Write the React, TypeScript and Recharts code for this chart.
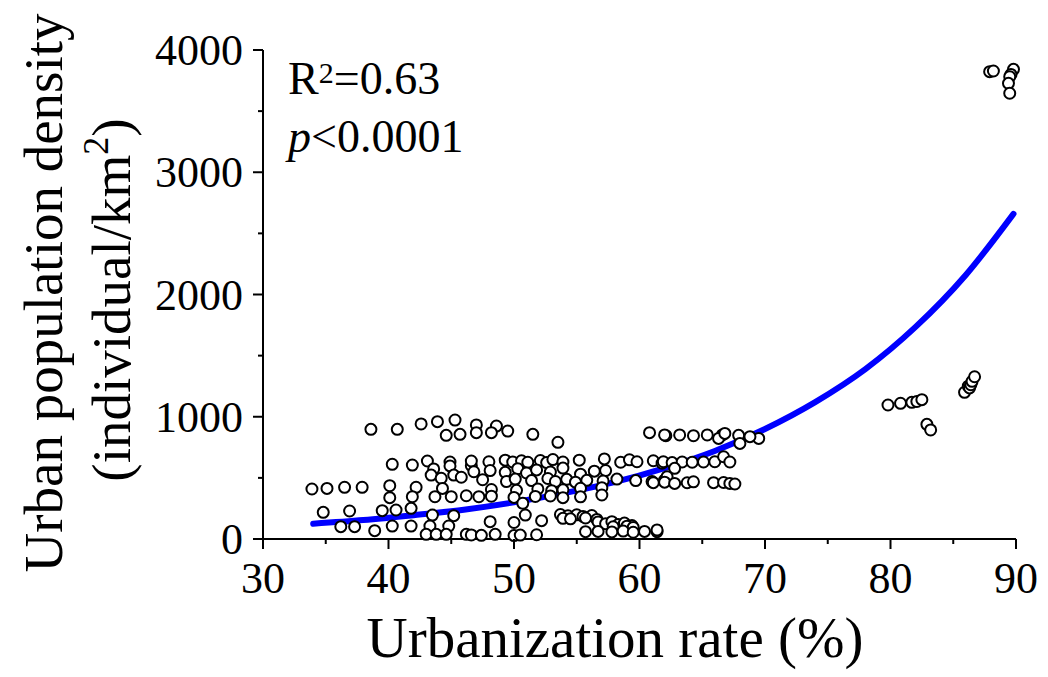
import { ComposedChart, Scatter, Line, XAxis, YAxis } from 'recharts';

// urbanization rate (%) of each sample
const urbanRate = [
  33.9, 35.1, 36.5, 37.9, 34.8, 36.9, 36.2, 37.3, 38.6, 40.7, 42.6, 43.9, 45.3, 44.6, 45.7,
  40.3, 41.9, 43.1, 43.6, 43.4, 44.2, 44.9, 44.9, 45.2, 45.8, 46.6, 40.1, 40.1, 42.2, 41.9,
  43.7, 44.3, 45.0, 46.2, 39.5, 40.6, 41.8, 43.5, 45.2, 38.9, 40.3, 41.8, 43.3, 44.8, 43.0,
  43.8, 44.6, 46.2,
  47.0, 47.0, 48.6, 48.2, 49.5, 51.5, 53.5, 60.8, 62.1,
  46.6, 48.0, 49.3, 49.9, 50.6, 51.1, 52.1, 52.6, 53.1, 53.9, 55.2, 57.2, 58.5, 59.2, 59.8, 61.1, 61.8,
  46.8, 48.1, 49.3, 50.3, 51.0, 51.8, 52.9, 53.9, 55.3, 56.4, 57.3,
  47.5, 49.4, 50.1, 51.4, 52.7, 53.3, 54.2, 54.9, 55.8, 57.1, 58.2, 59.7, 61.0, 62.0,
  48.2, 50.2, 51.9, 53.0, 53.9, 55.3, 57.0,
  47.2, 48.2, 50.0, 51.7, 52.9, 53.9, 55.3, 57.0, 50.7,
  50.9, 53.7, 54.3, 55.0, 55.5, 56.2, 53.9, 54.5, 55.7, 56.6,
  48.1, 50.0, 52.2, 56.7, 57.3, 57.8, 58.3, 58.8, 59.4, 57.9, 59.0, 59.5,
  55.7, 56.7, 57.8, 58.7, 59.5, 60.4, 61.4, 46.6, 47.4, 48.5, 50.0, 50.5, 51.8,
  62.0, 63.2, 64.3, 65.4, 66.6, 67.9, 69.5, 66.3, 66.8, 68.0, 68.8,
  61.9, 62.6, 63.4, 64.2, 65.1, 66.0, 66.7, 67.2, 62.8, 62.2,
  61.1, 62.0, 62.8, 63.8, 64.3, 65.9, 66.7, 67.2, 67.6, 61.4,
  79.8, 80.8, 81.7, 82.1, 82.5, 82.9, 83.2, 85.9, 86.2, 86.3, 86.4, 86.5, 86.7,
  87.9, 88.2, 89.8, 89.6, 89.5, 89.4, 89.5,
];

// urban population density (individual/km2) of each sample
const density = [
  409, 414, 423, 423, 218, 229, 101, 101, 897, 897, 941, 960, 973, 848, 856,
  611, 605, 638, 573, 523, 497, 630, 598, 523, 505, 600, 436, 338, 423, 346,
  346, 414, 346, 354, 232, 237, 251, 196, 191, 68, 106, 106, 106, 106, 38,
  38, 38, 38,
  933, 870, 924, 870, 883, 856, 791, 870, 845,
  638, 632, 645, 630, 640, 628, 642, 625, 650, 630, 645, 655, 628, 648, 632, 640, 620,
  550, 560, 545, 575, 540, 565, 548, 580, 530, 555, 560,
  485, 470, 490, 478, 495, 470, 488, 465, 480, 475, 490, 478, 470, 482,
  405, 398, 410, 395, 402, 415, 420,
  346, 350, 340, 348, 352, 338, 345, 360, 292,
  196, 200, 190, 198, 185, 192, 169, 165, 172, 160,
  142, 135, 150, 140, 125, 142, 118, 130, 110, 100, 105, 95,
  60, 62, 58, 65, 55, 62, 60, 33, 30, 38, 28, 32, 35,
  851, 851, 845, 851, 851, 848, 823, 823, 864, 782, 837,
  632, 625, 630, 628, 630, 632, 673, 630, 578, 510,
  461, 465, 455, 460, 468, 461, 462, 455, 450, 74,
  1096, 1110, 1118, 1125, 1140, 938, 892, 1200, 1250, 1236, 1262, 1290, 1327,
  3823, 3828, 3842, 3800, 3782, 3727, 3646,
];

// fitted curve
const fitX = [34, 38, 42, 46, 50, 54, 58, 62, 66, 70, 74, 78, 82, 86, 89.8];
const fitY = [125, 155, 195, 240, 300, 375, 465, 580, 720, 900, 1120, 1390, 1735, 2160, 2660];

const xTicks = [30, 35, 40, 45, 50, 55, 60, 65, 70, 75, 80, 85, 90];
const yTicks = [0, 500, 1000, 1500, 2000, 2500, 3000, 3500, 4000];

const FONT = '"Liberation Serif", "Times New Roman", serif';

const points = urbanRate.map((x, i) => ({ x, y: density[i] }));
const fitData = fitX.map((x, i) => ({ x, y: fitY[i] }));

const XTick = ({ x, y, payload }: any) => {
  const major = payload.value % 10 === 0;
  return (
    <g>
      <line x1={x} y1={y} x2={x} y2={y + (major ? 10 : 5)} stroke="#000" strokeWidth={2} />
      {major && (
        <text x={x} y={y + 54} textAnchor="middle" fontSize={44} fontFamily={FONT} fill="#000">
          {payload.value}
        </text>
      )}
    </g>
  );
};

const YTick = ({ x, y, payload }: any) => {
  const major = payload.value % 1000 === 0;
  return (
    <g>
      <line x1={x} y1={y} x2={x - (major ? 10 : 5)} y2={y} stroke="#000" strokeWidth={2} />
      {major && (
        <text x={x - 20} y={y + 15} textAnchor="end" fontSize={44} fontFamily={FONT} fill="#000">
          {payload.value}
        </text>
      )}
    </g>
  );
};

const Circle = ({ cx, cy }: any) => (
  <circle cx={cx} cy={cy} r={5.5} fill="#fff" stroke="#000" strokeWidth={2} />
);

const YTitle = () => (
  <g fontFamily={FONT} fontSize={55} fill="#000">
    <text x={62} y={293} textAnchor="middle" transform="rotate(-90, 62, 293)">
      Urban population density
    </text>
    <text x={130} y={300} textAnchor="middle" transform="rotate(-90, 130, 300)">
      (individual/km<tspan dy={-22} fontSize={36}>2</tspan><tspan dy={22}>)</tspan>
    </text>
  </g>
);

const XTitle = () => (
  <text x={615} y={657} textAnchor="middle" fontFamily={FONT} fontSize={57} fill="#000">
    Urbanization rate (%)
  </text>
);

export default function App() {
  return (
    <div style={{ position: 'absolute', left: 0, top: 0, width: 1048, height: 677, background: '#fff' }}>
      <ComposedChart
        width={1048}
        height={677}
        margin={{ top: 50, right: 32, bottom: 38, left: 63 }}
      >
        <XAxis
          dataKey="x"
          type="number"
          domain={[30, 90]}
          ticks={xTicks}
          interval={0}
          height={100}
          tickSize={0}
          tickMargin={0}
          tickLine={false}
          tick={<XTick />}
          axisLine={{ stroke: '#000', strokeWidth: 2 }}
          label={{ content: () => <XTitle /> }}
        />
        <YAxis
          dataKey="y"
          type="number"
          domain={[0, 4000]}
          ticks={yTicks}
          interval={0}
          width={200}
          tickSize={0}
          tickMargin={0}
          tickLine={false}
          tick={<YTick />}
          axisLine={{ stroke: '#000', strokeWidth: 2 }}
          label={{ content: () => <YTitle /> }}
        />
        <Scatter data={points} dataKey="y" shape={<Circle />} isAnimationActive={false} />
        <Line
          data={fitData}
          dataKey="y"
          type="monotone"
          stroke="#0000ff"
          strokeWidth={6}
          strokeLinecap="round"
          dot={false}
          activeDot={false}
          isAnimationActive={false}
        />
      </ComposedChart>
      <div
        style={{
          position: 'absolute',
          left: 288,
          top: 50,
          fontFamily: FONT,
          fontSize: 46,
          lineHeight: '58px',
          color: '#000',
        }}
      >
        <div>
          R<sup style={{ fontSize: 30, verticalAlign: 'top', position: 'relative', top: -6 }}>2</sup>=0.63
        </div>
        <div>
          <i>p</i>&lt;0.0001
        </div>
      </div>
    </div>
  );
}
